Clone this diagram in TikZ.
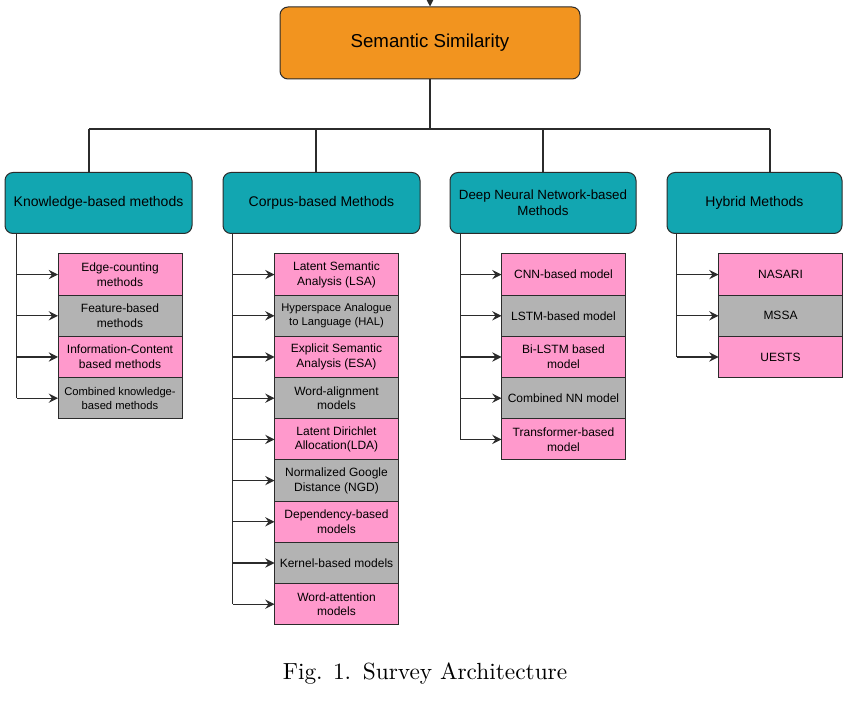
\documentclass[tikz,border=0pt]{standalone}
\usepackage{fontspec}
\usepackage{tikz}
\usetikzlibrary{arrows.meta,positioning}
\newfontfamily\arialfont{Liberation Sans}
\definecolor{simorange}{HTML}{F2941F}
\definecolor{simteal}{HTML}{12A6B1}
\definecolor{simpink}{HTML}{FF99CC}
\definecolor{simgray}{HTML}{B3B3B3}
\definecolor{simedge}{HTML}{2B2B2B}
\tikzset{
  rootbox/.style={
    rounded corners=6pt,
    draw=simedge,
    fill=simorange,
    line width=0.75pt,
    minimum width=225pt,
    minimum height=54pt,
    align=center,
    font=\arialfont\fontsize{14}{17}\selectfont
  },
  catbox/.style={
    rounded corners=6pt,
    draw=simedge,
    fill=simteal,
    line width=0.75pt,
    minimum height=45.75pt,
    inner sep=2pt,
    align=center,
    font=\arialfont\fontsize{10.5}{12}\selectfont
  },
  pinkbox/.style={
    draw=simedge,
    fill=simpink,
    line width=0.75pt,
    outer sep=0pt,
    minimum width=93pt,
    minimum height=30.9pt,
    inner sep=1pt,
    align=center,
    font=\arialfont\fontsize{9}{11}\selectfont
  },
  graybox/.style={pinkbox, fill=simgray},
  smalltext/.style={font=\arialfont\fontsize{8.4}{10.5}\selectfont},
  link/.style={draw=simedge, line width=0.8pt},
  arrow/.style={link, -{Stealth[length=7pt,width=7pt,inset=2.5pt]}}
}
\begin{document}
\begin{tikzpicture}[x=0.75pt, y=-0.75pt]
\useasboundingbox (0,0) rectangle (851,702);
% root
\coordinate (feed) at (430,0);
\node[rootbox] (root) at (430,43) {Semantic Similarity};
\draw[arrow] (feed) -- (root);
% categories
\node[catbox, minimum width=140.25pt] (know) at (98.5,203) {Knowledge-based methods};
\node[catbox, minimum width=147.75pt] (corpus) at (321.5,203) {Corpus-based Methods};
\node[catbox, minimum width=139.5pt, font=\arialfont\fontsize{10}{12}\selectfont] (dnn) at (543,203) {Deep Neural Network-based\\Methods};
\node[catbox, minimum width=131.25pt] (hybrid) at (754.5,203) {Hybrid Methods};
% trunk
\coordinate (jk) at (89,129);
\coordinate (jc) at (316,129);
\coordinate (jd) at (543,129);
\coordinate (jh) at (770,129);
\draw[link] (root) -- (root |- jk);
\draw[link] (jk) -- (jh);
\draw[link] (jk) -- (jk |- know.north);
\draw[link] (jc) -- (jc |- corpus.north);
\draw[link] (jd) -- (jd |- dnn.north);
\draw[link] (jh) -- (jh |- hybrid.north);
% knowledge-based
\node[pinkbox, anchor=north west] (k1) at (58,254) {Edge-counting\\methods};
\node[graybox, below=0pt of k1] (k2) {Feature-based\\methods};
\node[pinkbox, below=0pt of k2] (k3) {Information-Content\\based methods};
\node[graybox, smalltext, below=0pt of k3] (k4) {Combined knowledge-\\based methods};
% corpus-based
\node[pinkbox, anchor=north west] (c1) at (274.5,254) {Latent Semantic\\Analysis (LSA)};
\node[graybox, smalltext, below=0pt of c1] (c2) {Hyperspace Analogue\\to Language (HAL)};
\node[pinkbox, below=0pt of c2] (c3) {Explicit Semantic\\Analysis (ESA)};
\node[graybox, below=0pt of c3] (c4) {Word-alignment\\models};
\node[pinkbox, below=0pt of c4] (c5) {Latent Dirichlet\\Allocation(LDA)};
\node[graybox, below=0pt of c5] (c6) {Normalized Google\\Distance (NGD)};
\node[pinkbox, below=0pt of c6] (c7) {Dependency-based\\models};
\node[graybox, below=0pt of c7] (c8) {Kernel-based models};
\node[pinkbox, below=0pt of c8] (c9) {Word-attention\\models};
% deep neural network-based
\node[pinkbox, anchor=north west] (d1) at (501.5,254) {CNN-based model};
\node[graybox, below=0pt of d1] (d2) {LSTM-based model};
\node[pinkbox, below=0pt of d2] (d3) {Bi-LSTM based\\model};
\node[graybox, below=0pt of d3] (d4) {Combined NN model};
\node[pinkbox, below=0pt of d4] (d5) {Transformer-based\\model};
% hybrid
\node[pinkbox, anchor=north west] (h1) at (718.5,254) {NASARI};
\node[graybox, below=0pt of h1] (h2) {MSSA};
\node[pinkbox, below=0pt of h2] (h3) {UESTS};
% branches
\coordinate (kb) at ([xshift=9pt]know.south west);
\coordinate (cb) at ([xshift=7.5pt]corpus.south west);
\coordinate (db) at ([xshift=8pt]dnn.south west);
\coordinate (hb) at ([xshift=7.5pt]hybrid.south west);
\draw[link] (kb) -- (kb |- k4.west);
\draw[link] (cb) -- (cb |- c9.west);
\draw[link] (db) -- (db |- d5.west);
\draw[link] (hb) -- (hb |- h3.west);
\foreach \n in {k1,k2,k3,k4} \draw[arrow] (kb |- \n.west) -- (\n.west);
\foreach \n in {c1,c2,c3,c4,c5,c6,c7,c8,c9} \draw[arrow] (cb |- \n.west) -- (\n.west);
\foreach \n in {d1,d2,d3,d4,d5} \draw[arrow] (db |- \n.west) -- (\n.west);
\foreach \n in {h1,h2,h3} \draw[arrow] (hb |- \n.west) -- (\n.west);
% caption
\node[scale=1.75, transform shape, font=\fontsize{10}{12}\selectfont] (cap) at (425,674) {Fig. 1.\enspace Survey Architecture};
\end{tikzpicture}
\end{document}
